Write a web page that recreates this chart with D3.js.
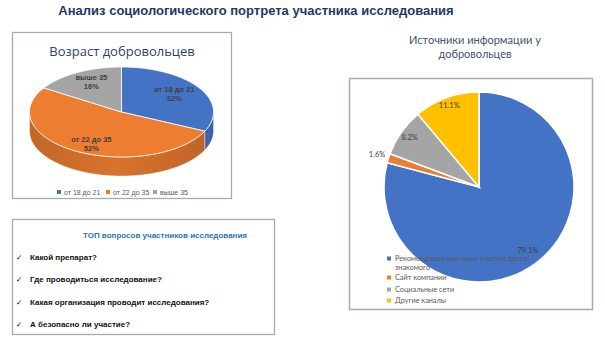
<!DOCTYPE html>
<html><head><meta charset="utf-8">
<script src="https://cdn.jsdelivr.net/npm/d3@7"></script>
<style>
html,body{margin:0;padding:0;background:#fff;}
svg{display:block;}
</style></head>
<body>
<svg id="c" width="605" height="339"></svg>
<script>
// ---- data ----
const mainTitle = "Анализ социологического портрета участника исследования";
const ageTitle = "Возраст добровольцев";
const ageCategories = ["от 18 до 21", "от 22 до 35", "выше 35"];
const ageValues = [32, 52, 16];
const ageColors = ["#4472C4", "#ED7D31", "#A5A5A5"];

const srcTitle = ["Источники информации у", "добровольцев"];
const srcCategories = ["Рекомендация или опыт участия друга/ знакомого", "Сайт компании", "Социальные сети", "Другие каналы"];
const srcLegendLines = [["Рекомендация или опыт участия друга/", "знакомого"], ["Сайт компании"], ["Социальные сети"], ["Другие каналы"]];
const srcValues = [79.1, 1.6, 8.2, 11.1];
const srcColors = ["#4472C4", "#ED7D31", "#A5A5A5", "#FFC000"];

const questionsTitle = "ТОП вопросов участников исследования";
const questions = ["Какой препарат?", "Где проводиться исследование?", "Какая организация проводит исследования?", "А безопасно ли участие?"];

const svg = d3.select("#c");
const borderColor = "#A3ABBA";

// main title
svg.append("text").attr("x", 256).attr("y", 15).attr("text-anchor", "middle")
  .style("font-family", "'Liberation Sans', Arial, sans-serif").style("font-weight", "bold")
  .style("font-size", "13px").attr("fill", "#1F3864").text(mainTitle);

// ---------- Left 3D pie ----------
svg.append("rect").attr("x", 12.5).attr("y", 32.5).attr("width", 219).attr("height", 166)
  .attr("fill", "#fff").attr("stroke", borderColor).attr("stroke-width", 1.3);
svg.append("text").attr("x", 122).attr("y", 56).attr("text-anchor", "middle")
  .style("font-family", "'Open Sans', sans-serif").style("font-size", "13px")
  .attr("fill", "#2F3F63").text(ageTitle);

const cx = 121.5, cy = 112, rx = 92, ry = 45, depth = 19;
const pt = (a, k = 1, dy = 0) => [cx + rx * k * Math.sin(a), cy - ry * k * Math.cos(a) + dy];
const agePie = d3.pie().sort(null).value(d => d)(ageValues);
const line = d3.line();
function samples(a0, a1, dy) {
  const n = Math.max(2, Math.ceil((a1 - a0) / 0.02));
  return d3.range(n + 1).map(i => pt(a0 + (a1 - a0) * i / n, 1, dy));
}
const g3 = svg.append("g");
// side walls (front half: PI/2 .. 3PI/2)
agePie.forEach((s, i) => {
  const a0 = Math.max(s.startAngle, Math.PI / 2), a1 = Math.min(s.endAngle, 3 * Math.PI / 2);
  if (a1 <= a0) return;
  const top = samples(a0, a1, 0), bot = samples(a0, a1, depth).reverse();
  const base = d3.color(ageColors[i]);
  const gid = "side" + i;
  const grad = svg.append("defs").append("linearGradient").attr("id", gid)
    .attr("x1", "0").attr("x2", "1").attr("y1", "0").attr("y2", "0");
  grad.append("stop").attr("offset", "0").attr("stop-color", base.darker(0.55));
  grad.append("stop").attr("offset", "0.5").attr("stop-color", base.darker(0.25));
  grad.append("stop").attr("offset", "1").attr("stop-color", base.darker(0.6));
  g3.append("path").attr("d", line(top.concat(bot)) + "Z")
    .attr("fill", `url(#${gid})`).attr("stroke", "#fff").attr("stroke-width", 0.4);
});
// top faces
agePie.forEach((s, i) => {
  const pts = [[cx, cy]].concat(samples(s.startAngle, s.endAngle, 0));
  g3.append("path").attr("d", line(pts) + "Z").attr("fill", ageColors[i])
    .attr("stroke", "#fff").attr("stroke-width", 0.8);
});
// labels
agePie.forEach((s, i) => {
  const m = (s.startAngle + s.endAngle) / 2;
  const x = cx + rx * 0.68 * Math.sin(m), y = cy - ry * 0.78 * Math.cos(m);
  const t = g3.append("text").attr("text-anchor", "middle")
    .style("font-family", "'Liberation Sans', Arial, sans-serif").style("font-weight", "bold")
    .style("font-size", "7.5px").attr("fill", "#404040");
  t.append("tspan").attr("x", x).attr("y", y - 1).text(ageCategories[i]);
  t.append("tspan").attr("x", x).attr("y", y + 8).text(s.value + "%");
});
// legend
const lgX = d3.scaleOrdinal().domain(ageCategories).range([57, 106, 153]);
ageCategories.forEach((c, i) => {
  svg.append("rect").attr("x", lgX(c)).attr("y", 190).attr("width", 4).attr("height", 4).attr("fill", ageColors[i]);
  svg.append("text").attr("x", lgX(c) + 7).attr("y", 194.5)
    .style("font-family", "'Liberation Sans', Arial, sans-serif").style("font-size", "7px")
    .attr("fill", "#595959").text(c);
});

// ---------- Questions box ----------
svg.append("rect").attr("x", 12.5).attr("y", 219.5).attr("width", 262).attr("height", 115)
  .attr("fill", "#fff").attr("stroke", borderColor).attr("stroke-width", 1.3);
svg.append("text").attr("x", 165).attr("y", 238).attr("text-anchor", "middle")
  .style("font-family", "'Liberation Sans', Arial, sans-serif").style("font-weight", "bold")
  .style("font-size", "8px").attr("fill", "#2E75B6").text(questionsTitle);
const qy = d3.scalePoint().domain(questions).range([260, 327]);
questions.forEach(q => {
  svg.append("text").attr("x", 16).attr("y", qy(q))
    .style("font-family", "'DejaVu Sans', sans-serif").style("font-size", "7.5px")
    .attr("fill", "#000").text("✓");
  svg.append("text").attr("x", 30).attr("y", qy(q))
    .style("font-family", "'Liberation Sans', Arial, sans-serif").style("font-weight", "bold")
    .style("font-size", "8px").attr("fill", "#111").text(q);
});

// ---------- Right pie ----------
const rt = svg.append("text").attr("text-anchor", "middle")
  .style("font-family", "Lato, 'Open Sans', sans-serif").style("font-size", "11px").attr("fill", "#44546A");
srcTitle.forEach((s, i) => rt.append("tspan").attr("x", 475).attr("y", 44 + i * 14).text(s));
svg.append("rect").attr("x", 349.5).attr("y", 78.5).attr("width", 243).attr("height", 231)
  .attr("fill", "#fff").attr("stroke", borderColor).attr("stroke-width", 1.5);

const pcx = 479, pcy = 187, R = 95;
const srcPie = d3.pie().sort(null).value(d => d)(srcValues);
const arc = d3.arc().innerRadius(0).outerRadius(R);
const pg = svg.append("g").attr("transform", `translate(${pcx},${pcy})`);
pg.selectAll("path").data(srcPie).join("path").attr("d", arc)
  .attr("fill", (d, i) => srcColors[i]).attr("stroke", "#fff").attr("stroke-width", 1.5);
const labR = [80, 107, 85, 87];
srcPie.forEach((s, i) => {
  const lab = d3.arc().innerRadius(labR[i]).outerRadius(labR[i]).centroid(s);
  pg.append("text").attr("x", lab[0]).attr("y", lab[1] + 2.5).attr("text-anchor", "middle")
    .style("font-family", "Lato, 'Open Sans', sans-serif").style("font-size", "7.5px")
    .attr("fill", "#404040").text(s.value.toFixed(1) + "%");
});
// legend
const legY = [261, 280, 292, 303];
srcCategories.forEach((c, i) => {
  svg.append("rect").attr("x", 387).attr("y", legY[i] - 4.5).attr("width", 4).attr("height", 4).attr("fill", srcColors[i]);
  const t = svg.append("text").style("font-family", "Lato, 'Open Sans', sans-serif")
    .style("font-size", "7.3px").attr("fill", "#595959");
  srcLegendLines[i].forEach((l, j) => t.append("tspan").attr("x", 395).attr("y", legY[i] + j * 8.5).text(l));
});
</script>
</body></html>
